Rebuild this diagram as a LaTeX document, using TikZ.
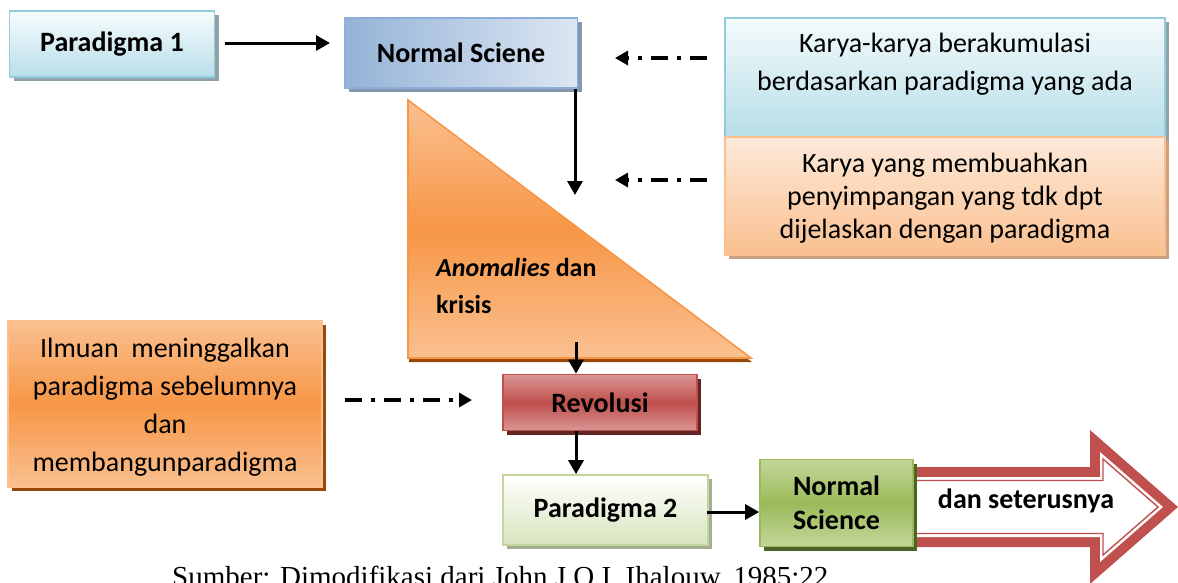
\documentclass[tikz,border=0pt]{standalone}
\usepackage{fontspec}
\setmainfont{Carlito}
\newfontfamily\capfont{Liberation Serif}
\usetikzlibrary{arrows.meta,shadows}
\definecolor{cyanB}{HTML}{93CDDD}
\definecolor{cyanF}{HTML}{B7DEE8}
\definecolor{cyanS}{HTML}{8FA3A8}
\definecolor{blueB}{HTML}{8EAEDA}
\definecolor{blueF}{HTML}{95B3D7}
\definecolor{blueL}{HTML}{DCE6F2}
\definecolor{blueS}{HTML}{8496B0}
\definecolor{orL}{HTML}{FAC090}
\definecolor{orM}{HTML}{F79646}
\definecolor{orP}{HTML}{FDE9D9}
\definecolor{orS}{HTML}{984807}
\definecolor{orT}{HTML}{C9A182}
\definecolor{redM}{HTML}{C0504D}
\definecolor{redL}{HTML}{D99694}
\definecolor{redS}{HTML}{632523}
\definecolor{grB}{HTML}{C3D69B}
\definecolor{grL}{HTML}{D7E4BD}
\definecolor{grM}{HTML}{9BBB59}
\definecolor{grS}{HTML}{4F6228}
\definecolor{grG}{HTML}{A3AE94}
\begin{document}
\begin{tikzpicture}[x=1pt,y=-1pt,
  box/.style={draw, line width=1.6pt, inner sep=0pt, align=center},
  shad/.style={general shadow={fill=#1, shadow xshift=4pt, shadow yshift=-4pt}},
  lbl/.style={font=\bfseries\fontsize{28}{34}\selectfont},
  txt/.style={font=\fontsize{28}{38}\selectfont, align=center, inner sep=0pt},
  solidarrow/.style={line width=3pt, -{Triangle[length=14pt,width=15pt]}},
  dasharrow/.style={line width=3.6pt, dash pattern=on 17pt off 9pt on 4pt off 9pt, -{Triangle[length=13pt,width=14pt]}},
]
\useasboundingbox (0,0) rectangle (1178,582);
\clip (0,0) rectangle (1178,582);

% Paradigma 1
\node[box, lbl, draw=cyanB, top color=white!90!cyanF, bottom color=cyanF, shad=cyanS,
      minimum width=205pt, minimum height=66pt] (p1) at (112,44) {Paradigma 1};
% Normal Sciene
\node[box, lbl, draw=blueB, left color=blueF, right color=blueL, shad=blueS,
      minimum width=233pt, minimum height=70pt] (ns1) at (461,53) {Normal Sciene};
\coordinate (a1s) at (225,43);
\coordinate (a1e) at (330,43);
\draw[solidarrow] (a1s) -- (a1e);

% Right boxes
\node[box, draw=cyanB, top color=white!85!cyanF, bottom color=cyanF, shad=cyanS,
      minimum width=440pt, minimum height=119pt] (k1) at (945,77.5) {};
\node[txt] (k1t) at (945,64) {Karya-karya berakumulasi\\berdasarkan paradigma yang ada};
\node[box, draw=orL, top color=orP, bottom color=orL, shad=orT,
      minimum width=440pt, minimum height=118pt] (k2) at (945,196) {};
\node[txt, font=\fontsize{28}{33}\selectfont] (k2t) at (945,198) {Karya yang membuahkan\\penyimpangan yang tdk dpt\\dijelaskan dengan paradigma};

% Triangle
\coordinate (tA) at (408,100);
\coordinate (tB) at (408,358);
\coordinate (tC) at (751,358);
\path[draw=orM, line width=1.6pt, top color=orL, bottom color=orL, middle color=orM,
      general shadow={fill=orS, shadow xshift=1pt, shadow yshift=-4pt}]
  (tA) -- (tB) -- (tC) -- cycle;
\node[anchor=west, align=left, inner sep=0pt, font=\bfseries\fontsize{26}{37}\selectfont] (anom) at (436,286)
  {\textit{Anomalies} dan\\krisis};

% arrows into the triangle
\coordinate (v1e) at (575,195);
\draw[solidarrow] (ns1.south -| v1e) -- (v1e);
\coordinate (d1s) at (707,58);
\coordinate (d1e) at (615,58);
\draw[dasharrow] (d1s) -- (d1e);
\coordinate (d2s) at (707,180);
\coordinate (d2e) at (615,180);
\draw[dasharrow] (d2s) -- (d2e);

% Revolusi
\node[box, lbl, draw=redM, top color=redL, bottom color=redL, middle color=redM, shad=redS,
      minimum width=194pt, minimum height=56pt] (rev) at (600,402.5) {Revolusi};
\coordinate (t2s) at (576,342);
\draw[solidarrow] (t2s) -- (rev.north -| t2s);

% Left orange box
\node[box, draw=orL, top color=orL, bottom color=orL, middle color=orM, shad=orS,
      minimum width=314pt, minimum height=166pt] (il) at (165,404) {};
\node[txt] (ilt) at (165,407) {Ilmuan\ \ meninggalkan\\paradigma sebelumnya\\dan\\membangunparadigma};
\coordinate (d3s) at (345,400);
\coordinate (d3e) at (472,400);
\draw[dasharrow] (d3s) -- (d3e);

% Paradigma 2
\node[box, lbl, draw=grB, top color=white, bottom color=grL, shad=grG,
      minimum width=205pt, minimum height=70pt] (p2) at (605.5,510) {Paradigma 2};
\draw[solidarrow] (rev.south -| t2s) -- (p2.north -| t2s);

% Big arrow (behind Normal Science)
\fill[redM] (913,467) -- (1090,467) -- (1090,430) -- (1178,507) -- (1090,584) -- (1090,547) -- (913,547) -- cycle;
\fill[white] (913,477) -- (1100,477) -- (1100,452) -- (1163,507) -- (1100,562) -- (1100,537) -- (913,537) -- cycle;
\draw[redM, line width=1.4pt, fill=white] (913,480.5) -- (1103,480.5) -- (1103,459) -- (1158,507) -- (1103,555) -- (1103,533.5) -- (913,533.5) -- cycle;
\node[lbl] (dst) at (1026,501) {dan seterusnya};

% Normal Science
\node[box, lbl, draw=grM, top color=grB, bottom color=grB, middle color=grM, shad=grS,
      minimum width=153pt, minimum height=87pt] (ns2) at (836.5,503) {Normal\\Science};
\coordinate (a5s) at (707,512);
\draw[solidarrow] (a5s) -- (ns2.west |- a5s);

% Caption
\node[anchor=base west, inner sep=0pt, font=\capfont\fontsize{29}{32}\selectfont] (cap) at (172,586)
  {Sumber: Dimodifikasi dari John J.O.I. Ihalouw, 1985:22};
\end{tikzpicture}
\end{document}
